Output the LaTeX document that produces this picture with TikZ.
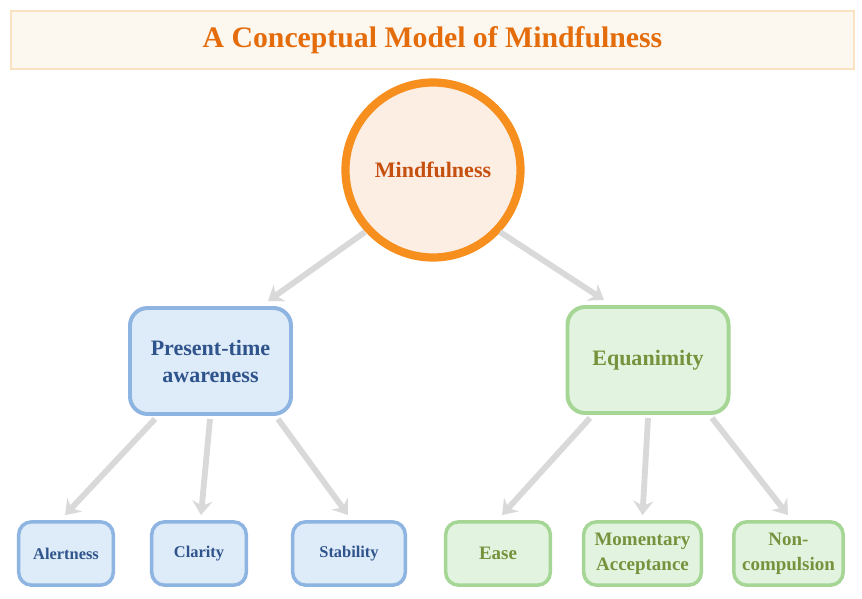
\documentclass[tikz,border=0pt]{standalone}
\usepackage{fontspec}
\setmainfont{Liberation Serif}
\usetikzlibrary{arrows.meta,positioning,calc,shadows}
\definecolor{titleorange}{RGB}{228,108,10}
\definecolor{titlefill}{RGB}{252,248,240}
\definecolor{titleedge}{RGB}{251,226,194}
\definecolor{rootedge}{RGB}{247,143,30}
\definecolor{rootfill}{RGB}{253,238,228}
\definecolor{roottext}{RGB}{197,80,15}
\definecolor{awareedge}{RGB}{142,180,226}
\definecolor{awarefill}{RGB}{222,235,248}
\definecolor{awaretext}{RGB}{47,84,140}
\definecolor{equaedge}{RGB}{166,214,150}
\definecolor{equafill}{RGB}{226,244,224}
\definecolor{equatext}{RGB}{118,146,60}
\definecolor{arrowgray}{RGB}{217,217,217}
\tikzset{
  softshadow/.style={drop shadow={shadow xshift=0.8pt, shadow yshift=-1.2pt,
    opacity=0.18, fill=black}},
  branchnode/.style={rounded corners=15pt, draw=#1edge, line width=3.4pt,
    fill=#1fill, text=#1text, align=center, softshadow,
    minimum width=4.83cm, minimum height=3.18cm,
    font=\fontsize{18.8}{23}\selectfont\bfseries},
  leafnode/.style={rounded corners=11pt, draw=#1edge, line width=3pt,
    fill=#1fill, text=#1text, align=center, softshadow,
    minimum height=1.9cm, inner sep=2pt,
    font=\fontsize{14}{20}\selectfont\bfseries},
  conn/.style={-{Stealth[width=17pt, length=12pt, inset=4pt]},
    line width=5pt, draw=arrowgray},
}
\begin{document}
\begin{tikzpicture}[x=0.03cm, y=-0.03cm]
      \useasboundingbox (0,0) rectangle (862,599);

      %% ---- Title banner ----
      \node[draw=titleedge, fill=titlefill, line width=1.6pt,
            minimum width=25.3cm, minimum height=1.72cm,
            softshadow, text=titleorange,
            font=\fontsize{25.4}{30}\selectfont\bfseries]
            (title) at (432.5,40) {A Conceptual Model of Mindfulness};

      %% ---- Root concept ----
      \node[circle, draw=rootedge, fill=rootfill, line width=7pt,
            minimum size=5.25cm, softshadow, text=roottext,
            font=\fontsize{18.8}{22}\selectfont\bfseries]
            (mind) at (433,170) {Mindfulness};

      %% ---- Second level ----
      \node[branchnode=aware] (pta) at (210.5,361) {Present-time\\awareness};
      \node[branchnode=equa] (equ) at (648,360) {Equanimity};

      %% ---- Leaves ----
      \foreach \px/\bw/\nm/\lbl in {66/2.84/alert/Alertness, 199/2.84/clar/Clarity,
                                    349/3.38/stab/Stability}{
        \node[leafnode=aware, minimum width=\bw cm] (\nm) at (\px,553.5) {\lbl};}
      \foreach \px/\bw/\nm/\lbl in {498/3.14/ease/Ease,
                                    642.5/3.53/mom/{Momentary\\Acceptance},
                                    788.5/3.28/nonc/{Non-\\compulsion}}{
        \node[leafnode=equa, minimum width=\bw cm,
              font=\fontsize{16.2}{21.3}\selectfont\bfseries]
              (\nm) at (\px,553.5) {\lbl};}

      %% ---- Connectors ----
      \draw[conn] ($(mind)+(-68,62)$) -- ($(pta.north)+(57.5,-5)$);
      \draw[conn] ($(mind)+(67,62)$) -- ($(equ.north)+(-44,-5)$);
      \draw[conn] ($(pta.south)+(-55.5,3)$) -- ($(alert.north)+(-1,-5)$);
      \draw[conn] ($(pta.south)+(-0.5,3)$) -- ($(clar.north)+(2,-5)$);
      \draw[conn] ($(pta.south)+(67.5,3)$) -- ($(stab.north)+(-1,-5)$);
      \draw[conn] ($(equ.south)+(-58,3)$) -- ($(ease.north)+(4,-5)$);
      \draw[conn] ($(equ.south)+(0,3)$) -- ($(mom.north)+(0,-5)$);
      \draw[conn] ($(equ.south)+(64,3)$) -- ($(nonc.north)+(-0.5,-5)$);
\end{tikzpicture}
\end{document}
